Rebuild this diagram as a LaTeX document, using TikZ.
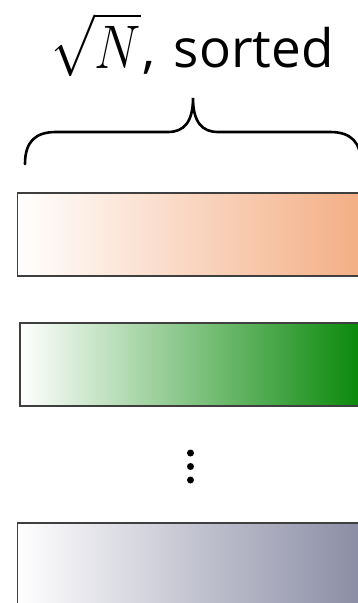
\RequirePackage{fix-cm}
\documentclass[tikz,border=0pt]{standalone}
\usepackage{graphicx}
\usepackage{fontspec}
\setmainfont{Open Sans}
\definecolor{orangeEnd}{HTML}{F3AE84}
\definecolor{greenEnd}{HTML}{078707}
\definecolor{grayEnd}{HTML}{8A8CA4}
\definecolor{borderGray}{HTML}{3F3F3F}
\tikzset{
  bar/.style={draw=borderGray, line width=1.5pt, rectangle, anchor=north west, inner sep=0pt,
    minimum width=345pt, minimum height=83pt},
  dotmark/.style={circle, fill=black, inner sep=0pt, minimum size=7pt},
  bracepath/.style={line width=2.6pt, line cap=round}
}
\begin{document}
\begin{tikzpicture}[x=1pt,y=-1pt]
\useasboundingbox (0,0) rectangle (357,603);
% title
\node[anchor=base west, inner sep=0pt] (root) at (51,68) {\scalebox{0.93}[1.1]{\fontsize{56}{56}\selectfont$\sqrt{N}$}};
\node[anchor=base west, inner sep=0pt] (lbl) at (142,67) {\fontsize{53}{53}\selectfont,\hspace{5pt}\ sorted};
% brace
\coordinate (bl) at (25,164);
\coordinate (bt) at (193,98);
\coordinate (br) at (361,164);
\draw[bracepath] (bl) .. controls (25,142) and (35,132) .. (56,132) -- (168,132)
  .. controls (184,132) and (193,122) .. (bt)
  .. controls (193,122) and (202,132) .. (218,132) -- (330,132)
  .. controls (351,132) and (361,142) .. (br);
% bars
\node[bar, left color=white, right color=orangeEnd] (b1) at (16.5,192) {};
\node[bar, left color=white, right color=greenEnd] (b2) at (19,322) {};
\node[bar, left color=white, right color=grayEnd] (b3) at (16.5,522) {};
% dots
\node[dotmark] (d1) at (190.5,453) {};
\node[dotmark] (d2) at (190.5,466.5) {};
\node[dotmark] (d3) at (190.5,480) {};
\end{tikzpicture}
\end{document}
